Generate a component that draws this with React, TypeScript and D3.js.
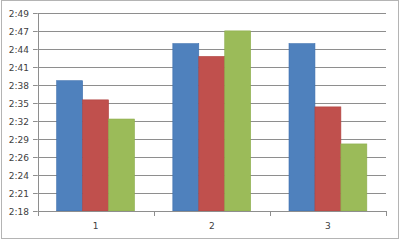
import React from "react";
import * as d3 from "d3";

const categories = ["1", "2", "3"];
const seriesBlue = [158.4, 164.2, 164.2];
const seriesRed = [155.4, 162.2, 154.3];
const seriesGreen = [152.4, 166.2, 148.5];
const yTickLabels = ["2:18", "2:21", "2:24", "2:26", "2:29", "2:32", "2:35", "2:38", "2:41", "2:44", "2:47", "2:49"];
const yMin = 138;
const yMax = 169;

const series = [
  { name: "A", values: seriesBlue, fill: "#4F81BD", stroke: "#3D6FAE" },
  { name: "B", values: seriesRed, fill: "#C0504D", stroke: "#B04340" },
  { name: "C", values: seriesGreen, fill: "#9BBB59", stroke: "#8DAD4C" },
];

export default function App() {
  const W = 400, H = 241;
  const left = 37.5, right = 386, top = 13, bottom = 211;
  const x = d3.scaleBand<string>().domain(categories).range([left, right]).paddingInner(0.33).paddingOuter(0.165);
  const xs = d3.scaleBand<string>().domain(series.map(s => s.name)).range([0, x.bandwidth()]);
  const y = d3.scaleLinear().domain([yMin, yMax]).range([bottom, top]);
  const tickVals = yTickLabels.map((_, i) => yMin + (i * (yMax - yMin)) / (yTickLabels.length - 1));
  const step = x.step();
  const boundaries = d3.range(categories.length + 1).map(i => left + i * step);
  const font = "'DejaVu Sans', Verdana, sans-serif";
  return (
    <svg width={W} height={H} style={{ position: "absolute", left: 0, top: 0, background: "#fff" }}>
      <rect x={1.5} y={0.5} width={397} height={238} fill="#fff" stroke="#b4b4b4" />
      {tickVals.map((v, i) => {
        const yy = Math.round(y(v)) + 0.5;
        return (
          <g key={i}>
            {i > 0 && <line x1={left} x2={right} y1={yy} y2={yy} stroke="#8e8e8e" strokeWidth={1} />}
            <line x1={33} x2={left} y1={yy} y2={yy} stroke="#8e8e8e" />
            <text x={29} y={yy + 3} textAnchor="end" fontFamily={font} fontSize={9} fill="#404040">
              {yTickLabels[i]}
            </text>
          </g>
        );
      })}
      {series.map(s =>
        categories.map((c, i) => {
          const bx = (x(c) ?? 0) + (xs(s.name) ?? 0);
          const by = y(s.values[i]);
          return (
            <rect key={s.name + c} x={bx} y={by} width={xs.bandwidth()} height={bottom - by}
              fill={s.fill} stroke={s.stroke} strokeWidth={0.6} />
          );
        })
      )}
      <line x1={Math.round(left) + 0.5} x2={Math.round(left) + 0.5} y1={top} y2={bottom + 0.5} stroke="#8e8e8e" />
      <line x1={left} x2={right} y1={bottom + 0.5} y2={bottom + 0.5} stroke="#8e8e8e" />
      {boundaries.map((bx, i) => (
        <line key={i} x1={Math.round(bx) + 0.5} x2={Math.round(bx) + 0.5} y1={bottom} y2={bottom + 5} stroke="#8e8e8e" />
      ))}
      {categories.map(c => (
        <text key={c} x={(x(c) ?? 0) + x.bandwidth() / 2} y={229} textAnchor="middle" fontFamily={font} fontSize={9} fill="#404040">
          {c}
        </text>
      ))}
    </svg>
  );
}
